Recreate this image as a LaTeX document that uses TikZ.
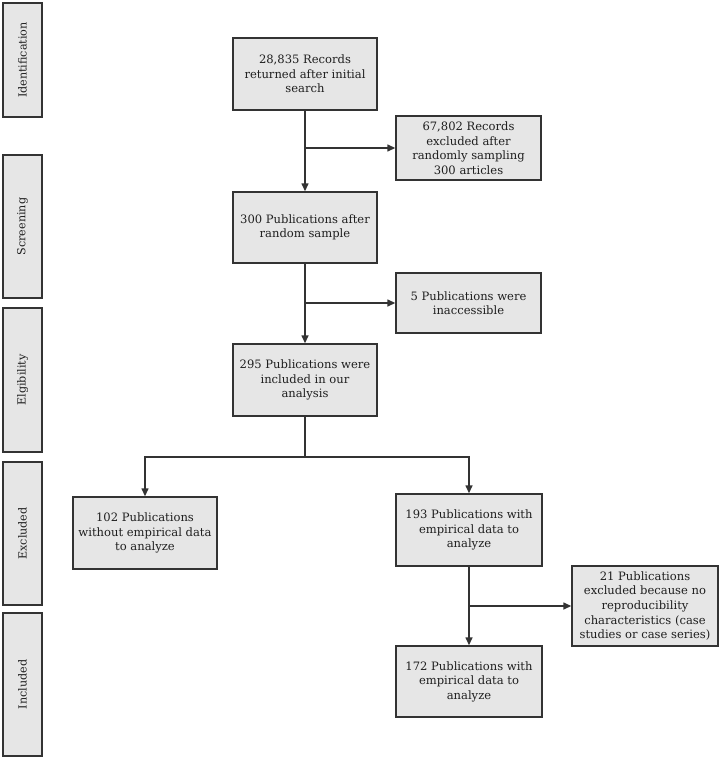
\documentclass[tikz,border=0pt]{standalone}
\usepackage{fontspec}
\setmainfont{DejaVu Serif}
\usetikzlibrary{arrows.meta}
\definecolor{boxfill}{HTML}{E6E6E6}
\definecolor{edge}{HTML}{333333}
\tikzset{
  flowbox/.style={draw=edge, line width=1.4bp, fill=boxfill, align=center, inner sep=1bp,
    font=\fontsize{11.6}{14.6}\selectfont, text=black!88},
  sidebox/.style={draw=edge, line width=1.4bp, fill=boxfill, minimum width=39bp,
    font=\fontsize{11.2}{13}\selectfont, text=black!88},
  conn/.style={draw=edge, line width=1.4bp},
  arr/.style={conn, -{Triangle[length=8bp,width=7bp]}}
}
\begin{document}
\begin{tikzpicture}[x=1bp,y=-1bp]
\useasboundingbox (0,0) rectangle (720,760);
% side labels
\node[sidebox, minimum height=114bp] (sid) at (22.5,60) {\rotatebox{90}{Identification}};
\node[sidebox, minimum height=143bp] (sscr) at (22.5,226.5) {\rotatebox{90}{Screening}};
\node[sidebox, minimum height=144bp] (selg) at (22.5,380) {\rotatebox{90}{Elgibility}};
\node[sidebox, minimum height=143bp] (sexc) at (22.5,533.5) {\rotatebox{90}{Excluded}};
\node[sidebox, minimum height=143bp] (sinc) at (22.5,684.5) {\rotatebox{90}{Included}};
% main boxes
\node[flowbox, minimum width=144bp, minimum height=72bp] (b1) at (305,74) {28,835 Records\\returned after initial\\search};
\node[flowbox, minimum width=145bp, minimum height=64bp] (e1) at (468.5,148) {67,802 Records\\excluded after\\randomly sampling\\300 articles};
\node[flowbox, minimum width=144bp, minimum height=71bp] (b2) at (305,227.5) {300 Publications after\\random sample};
\node[flowbox, minimum width=145bp, minimum height=60bp] (e2) at (468.5,303) {5 Publications were\\inaccessible};
\node[flowbox, minimum width=144bp, minimum height=72bp] (b3) at (305,380) {295 Publications were\\included in our\\analysis};
\node[flowbox, minimum width=144bp, minimum height=72bp] (b4) at (145,533) {102 Publications\\without empirical data\\to analyze};
\node[flowbox, minimum width=146bp, minimum height=72bp] (b5) at (469,530) {193 Publications with\\empirical data to\\analyze};
\node[flowbox, minimum width=146bp, minimum height=80bp] (e3) at (645,606) {21 Publications\\excluded because no\\reproducibility\\characteristics (case\\studies or case series)};
\node[flowbox, minimum width=146bp, minimum height=71bp] (b6) at (469,681.5) {172 Publications with\\empirical data to\\analyze};
% connectors
\coordinate (j1) at (b1.south |- e1.west);
\coordinate (j2) at (b2.south |- e2.west);
\coordinate (j3) at (305,457);
\coordinate (j4) at (b5.south |- e3.west);
\draw[arr] (b1.south) -- (b2.north);
\draw[arr] (j1) -- (e1.west);
\draw[arr] (b2.south) -- (b3.north);
\draw[arr] (j2) -- (e2.west);
\draw[conn] (b3.south) -- (j3);
\draw[arr] (j3) -| (b4.north);
\draw[arr] (j3) -| (b5.north);
\draw[arr] (b5.south) -- (b6.north);
\draw[arr] (j4) -- (e3.west);
\end{tikzpicture}
\end{document}
